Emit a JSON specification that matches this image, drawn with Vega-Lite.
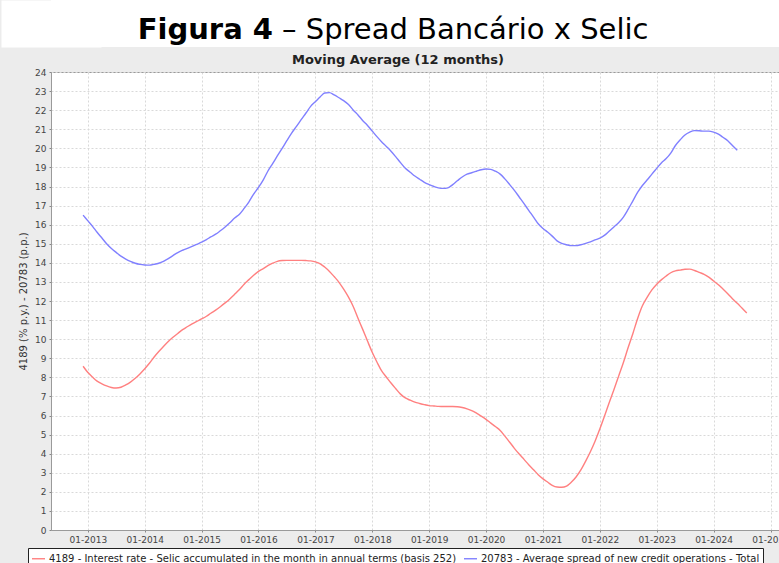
{
  "$schema": "https://vega.github.io/schema/vega-lite/v6.json",
  "background": "#ececec",
  "padding": 0,
  "spacing": 0,
  "columns": 1,
  "config": {"font": "DejaVu Sans"},
  "concat": [
    {
      "width": 728,
      "height": 47,
      "view": {"fill": "white", "stroke": null},
      "data": {"values": [{}]},
      "encoding": {
        "y": {"datum": 39, "type": "quantitative", "scale": {"domain": [47, 0], "nice": false, "zero": false},
              "axis": {"title": null, "labels": false, "ticks": false, "grid": false, "domainWidth": 100, "domainColor": "white"}}
      },
      "layer": [
        {
          "mark": {"type": "text", "text": "Figura 4", "font": "DejaVu Sans", "fontWeight": "bold", "fontSize": 29, "align": "right", "baseline": "alphabetic", "color": "#000"},
          "encoding": {
            "x": {"datum": 222, "type": "quantitative", "scale": {"domain": [0, 728], "nice": false, "zero": false}, "axis": null}
          }
        },
        {
          "mark": {"type": "text", "text": "– Spread Bancário x Selic", "font": "DejaVu Sans", "fontWeight": "normal", "fontSize": 29, "align": "left", "baseline": "alphabetic", "color": "#000"},
          "encoding": {
            "x": {"datum": 231, "type": "quantitative", "scale": {"domain": [0, 728], "nice": false, "zero": false}, "axis": null}
          }
        }
      ]
    },
    {
      "width": 728,
      "height": 458,
      "title": {"text": ["", "Moving Average (12 months)"], "font": "DejaVu Sans", "fontSize": 13, "fontWeight": "bold", "color": "#222", "anchor": "middle", "dx": -17, "offset": 1.5, "lineHeight": 6},
      "view": {"fill": "white", "stroke": "#9a9a9a"},
      "data": {
        "format": {"parse": {"d": "date"}},
        "values": [
          {"d": "2012/12/01", "r": 8.58, "s": 16.5},
          {"d": "2013/01/01", "r": 8.25, "s": 16.2},
          {"d": "2013/02/01", "r": 8.0, "s": 15.9},
          {"d": "2013/03/01", "r": 7.8, "s": 15.6},
          {"d": "2013/04/01", "r": 7.66, "s": 15.3},
          {"d": "2013/05/01", "r": 7.55, "s": 15.0},
          {"d": "2013/06/01", "r": 7.47, "s": 14.75},
          {"d": "2013/07/01", "r": 7.44, "s": 14.55},
          {"d": "2013/08/01", "r": 7.48, "s": 14.35},
          {"d": "2013/09/01", "r": 7.6, "s": 14.2},
          {"d": "2013/10/01", "r": 7.75, "s": 14.08},
          {"d": "2013/11/01", "r": 7.95, "s": 13.98},
          {"d": "2013/12/01", "r": 8.18, "s": 13.92},
          {"d": "2014/01/01", "r": 8.45, "s": 13.89},
          {"d": "2014/02/01", "r": 8.75, "s": 13.88},
          {"d": "2014/03/01", "r": 9.05, "s": 13.92},
          {"d": "2014/04/01", "r": 9.35, "s": 13.98},
          {"d": "2014/05/01", "r": 9.62, "s": 14.08},
          {"d": "2014/06/01", "r": 9.88, "s": 14.22},
          {"d": "2014/07/01", "r": 10.1, "s": 14.38},
          {"d": "2014/08/01", "r": 10.3, "s": 14.54},
          {"d": "2014/09/01", "r": 10.5, "s": 14.66},
          {"d": "2014/10/01", "r": 10.65, "s": 14.76},
          {"d": "2014/11/01", "r": 10.8, "s": 14.86},
          {"d": "2014/12/01", "r": 10.93, "s": 14.97},
          {"d": "2015/01/01", "r": 11.06, "s": 15.08},
          {"d": "2015/02/01", "r": 11.2, "s": 15.22},
          {"d": "2015/03/01", "r": 11.36, "s": 15.36},
          {"d": "2015/04/01", "r": 11.52, "s": 15.5},
          {"d": "2015/05/01", "r": 11.7, "s": 15.68},
          {"d": "2015/06/01", "r": 11.9, "s": 15.88},
          {"d": "2015/07/01", "r": 12.11, "s": 16.1},
          {"d": "2015/08/01", "r": 12.35, "s": 16.35},
          {"d": "2015/09/01", "r": 12.6, "s": 16.55},
          {"d": "2015/10/01", "r": 12.88, "s": 16.85},
          {"d": "2015/11/01", "r": 13.12, "s": 17.2},
          {"d": "2015/12/01", "r": 13.35, "s": 17.6},
          {"d": "2016/01/01", "r": 13.55, "s": 17.95},
          {"d": "2016/02/01", "r": 13.7, "s": 18.35},
          {"d": "2016/03/01", "r": 13.85, "s": 18.8},
          {"d": "2016/04/01", "r": 13.98, "s": 19.2},
          {"d": "2016/05/01", "r": 14.08, "s": 19.6},
          {"d": "2016/06/01", "r": 14.12, "s": 20.0},
          {"d": "2016/07/01", "r": 14.13, "s": 20.4},
          {"d": "2016/08/01", "r": 14.13, "s": 20.8},
          {"d": "2016/09/01", "r": 14.13, "s": 21.15},
          {"d": "2016/10/01", "r": 14.13, "s": 21.5},
          {"d": "2016/11/01", "r": 14.12, "s": 21.85},
          {"d": "2016/12/01", "r": 14.1, "s": 22.2},
          {"d": "2017/01/01", "r": 14.05, "s": 22.45},
          {"d": "2017/02/01", "r": 13.95, "s": 22.7},
          {"d": "2017/03/01", "r": 13.78, "s": 22.9},
          {"d": "2017/04/01", "r": 13.55, "s": 22.92},
          {"d": "2017/05/01", "r": 13.28, "s": 22.8},
          {"d": "2017/06/01", "r": 12.98, "s": 22.65},
          {"d": "2017/07/01", "r": 12.62, "s": 22.5},
          {"d": "2017/08/01", "r": 12.2, "s": 22.3},
          {"d": "2017/09/01", "r": 11.7, "s": 22.0},
          {"d": "2017/10/01", "r": 11.1, "s": 21.75},
          {"d": "2017/11/01", "r": 10.5, "s": 21.45},
          {"d": "2017/12/01", "r": 9.9, "s": 21.2},
          {"d": "2018/01/01", "r": 9.3, "s": 20.9},
          {"d": "2018/02/01", "r": 8.78, "s": 20.6},
          {"d": "2018/03/01", "r": 8.35, "s": 20.35},
          {"d": "2018/04/01", "r": 8.02, "s": 20.1},
          {"d": "2018/05/01", "r": 7.7, "s": 19.85},
          {"d": "2018/06/01", "r": 7.4, "s": 19.55},
          {"d": "2018/07/01", "r": 7.12, "s": 19.25},
          {"d": "2018/08/01", "r": 6.92, "s": 18.95},
          {"d": "2018/09/01", "r": 6.8, "s": 18.75},
          {"d": "2018/10/01", "r": 6.7, "s": 18.55},
          {"d": "2018/11/01", "r": 6.63, "s": 18.38},
          {"d": "2018/12/01", "r": 6.57, "s": 18.22},
          {"d": "2019/01/01", "r": 6.52, "s": 18.1},
          {"d": "2019/02/01", "r": 6.5, "s": 18.0},
          {"d": "2019/03/01", "r": 6.48, "s": 17.93},
          {"d": "2019/04/01", "r": 6.47, "s": 17.9},
          {"d": "2019/05/01", "r": 6.47, "s": 17.93},
          {"d": "2019/06/01", "r": 6.47, "s": 18.1},
          {"d": "2019/07/01", "r": 6.46, "s": 18.3},
          {"d": "2019/08/01", "r": 6.42, "s": 18.5},
          {"d": "2019/09/01", "r": 6.35, "s": 18.65},
          {"d": "2019/10/01", "r": 6.26, "s": 18.72},
          {"d": "2019/11/01", "r": 6.12, "s": 18.8},
          {"d": "2019/12/01", "r": 5.97, "s": 18.88},
          {"d": "2020/01/01", "r": 5.8, "s": 18.92},
          {"d": "2020/02/01", "r": 5.6, "s": 18.9},
          {"d": "2020/03/01", "r": 5.42, "s": 18.8},
          {"d": "2020/04/01", "r": 5.22, "s": 18.65},
          {"d": "2020/05/01", "r": 4.92, "s": 18.4},
          {"d": "2020/06/01", "r": 4.6, "s": 18.1},
          {"d": "2020/07/01", "r": 4.28, "s": 17.8},
          {"d": "2020/08/01", "r": 3.98, "s": 17.45},
          {"d": "2020/09/01", "r": 3.7, "s": 17.1},
          {"d": "2020/10/01", "r": 3.42, "s": 16.75},
          {"d": "2020/11/01", "r": 3.16, "s": 16.4},
          {"d": "2020/12/01", "r": 2.9, "s": 16.05},
          {"d": "2021/01/01", "r": 2.68, "s": 15.8},
          {"d": "2021/02/01", "r": 2.5, "s": 15.6},
          {"d": "2021/03/01", "r": 2.34, "s": 15.4},
          {"d": "2021/04/01", "r": 2.25, "s": 15.15},
          {"d": "2021/05/01", "r": 2.24, "s": 15.02},
          {"d": "2021/06/01", "r": 2.3, "s": 14.95},
          {"d": "2021/07/01", "r": 2.5, "s": 14.9},
          {"d": "2021/08/01", "r": 2.78, "s": 14.9},
          {"d": "2021/09/01", "r": 3.15, "s": 14.95},
          {"d": "2021/10/01", "r": 3.6, "s": 15.02},
          {"d": "2021/11/01", "r": 4.1, "s": 15.1},
          {"d": "2021/12/01", "r": 4.65, "s": 15.2},
          {"d": "2022/01/01", "r": 5.3, "s": 15.3},
          {"d": "2022/02/01", "r": 6.0, "s": 15.45},
          {"d": "2022/03/01", "r": 6.65, "s": 15.65},
          {"d": "2022/04/01", "r": 7.35, "s": 15.88},
          {"d": "2022/05/01", "r": 8.05, "s": 16.1},
          {"d": "2022/06/01", "r": 8.78, "s": 16.4},
          {"d": "2022/07/01", "r": 9.55, "s": 16.8},
          {"d": "2022/08/01", "r": 10.3, "s": 17.25},
          {"d": "2022/09/01", "r": 11.1, "s": 17.7},
          {"d": "2022/10/01", "r": 11.75, "s": 18.05},
          {"d": "2022/11/01", "r": 12.2, "s": 18.35},
          {"d": "2022/12/01", "r": 12.58, "s": 18.65},
          {"d": "2023/01/01", "r": 12.88, "s": 18.95},
          {"d": "2023/02/01", "r": 13.12, "s": 19.25},
          {"d": "2023/03/01", "r": 13.3, "s": 19.45},
          {"d": "2023/04/01", "r": 13.48, "s": 19.75},
          {"d": "2023/05/01", "r": 13.58, "s": 20.15},
          {"d": "2023/06/01", "r": 13.62, "s": 20.45},
          {"d": "2023/07/01", "r": 13.66, "s": 20.7},
          {"d": "2023/08/01", "r": 13.67, "s": 20.85},
          {"d": "2023/09/01", "r": 13.6, "s": 20.93},
          {"d": "2023/10/01", "r": 13.5, "s": 20.92},
          {"d": "2023/11/01", "r": 13.4, "s": 20.9},
          {"d": "2023/12/01", "r": 13.25, "s": 20.9},
          {"d": "2024/01/01", "r": 13.05, "s": 20.85},
          {"d": "2024/02/01", "r": 12.85, "s": 20.75},
          {"d": "2024/03/01", "r": 12.63, "s": 20.58},
          {"d": "2024/04/01", "r": 12.38, "s": 20.4},
          {"d": "2024/05/01", "r": 12.12, "s": 20.15},
          {"d": "2024/06/01", "r": 11.88, "s": 19.9},
          {"d": "2024/07/01", "r": 11.63},
          {"d": "2024/08/01", "r": 11.37}
        ]
      },
      "transform": [{"fold": ["r", "s"], "as": ["k", "v"]}],
      "mark": {"type": "line", "strokeWidth": 1.4, "interpolate": "monotone"},
      "encoding": {
        "x": {
          "field": "d",
          "type": "temporal",
          "scale": {"domain": [{"year": 2012, "month": 5, "date": 9}, {"year": 2025, "month": 2, "date": 24}]},
          "axis": {
            "title": null,
            "values": [
              {"year": 2013, "month": 1, "date": 1}, {"year": 2014, "month": 1, "date": 1}, {"year": 2015, "month": 1, "date": 1},
              {"year": 2016, "month": 1, "date": 1}, {"year": 2017, "month": 1, "date": 1}, {"year": 2018, "month": 1, "date": 1},
              {"year": 2019, "month": 1, "date": 1}, {"year": 2020, "month": 1, "date": 1}, {"year": 2021, "month": 1, "date": 1},
              {"year": 2022, "month": 1, "date": 1}, {"year": 2023, "month": 1, "date": 1}, {"year": 2024, "month": 1, "date": 1},
              {"year": 2025, "month": 1, "date": 1}
            ],
            "format": "%m-%Y",
            "labelFont": "DejaVu Sans",
            "labelFontSize": 9,
            "labelColor": "#444",
            "labelFlush": false,
            "labelOverlap": false,
            "labelPadding": 3,
            "tickSize": 2,
            "tickColor": "#888",
            "domainColor": "#9a9a9a",
            "grid": true,
            "gridColor": "#d9d9d9",
            "gridDash": [2, 2]
          }
        },
        "y": {
          "field": "v",
          "type": "quantitative",
          "scale": {"domain": [0, 24], "nice": false, "zero": true},
          "axis": {
            "title": ["", "4189 (% p.y.) - 20783 (p.p.)"],
            "titleFont": "DejaVu Sans",
            "titleFontSize": 10,
            "titleFontWeight": "normal",
            "titleColor": "#333",
            "titleLineHeight": 18,
            "titlePadding": 6,
            "values": [0,1,2,3,4,5,6,7,8,9,10,11,12,13,14,15,16,17,18,19,20,21,22,23,24],
            "labelFont": "DejaVu Sans",
            "labelFontSize": 9,
            "labelColor": "#444",
            "labelFlush": false,
            "labelOverlap": false,
            "labelPadding": 3,
            "tickSize": 2,
            "tickColor": "#888",
            "domainColor": "#9a9a9a",
            "grid": true,
            "gridColor": "#d9d9d9",
            "gridDash": [2, 2]
          }
        },
        "color": {
          "field": "k",
          "type": "nominal",
          "scale": {"domain": ["r", "s"], "range": ["#ff8080", "#8080ff"]},
          "legend": {
            "title": null,
            "orient": "none",
            "legendX": -23,
            "legendY": 548,
            "direction": "horizontal",
            "symbolType": "stroke",
            "symbolStrokeWidth": 1.4,
            "symbolSize": 169,
            "labelFont": "DejaVu Sans",
            "labelFontSize": 10,
            "labelColor": "#222",
            "labelLimit": 1000,
            "labelOffset": 3,
            "columnPadding": 4,
            "strokeColor": "#222",
            "fillColor": "white",
            "padding": 3,
            "labelExpr": "datum.value == 'r' ? '4189 - Interest rate - Selic accumulated in the month in annual terms (basis 252)' : '20783 - Average spread of new credit operations - Total'"
          }
        }
      }
    }
  ]
}
